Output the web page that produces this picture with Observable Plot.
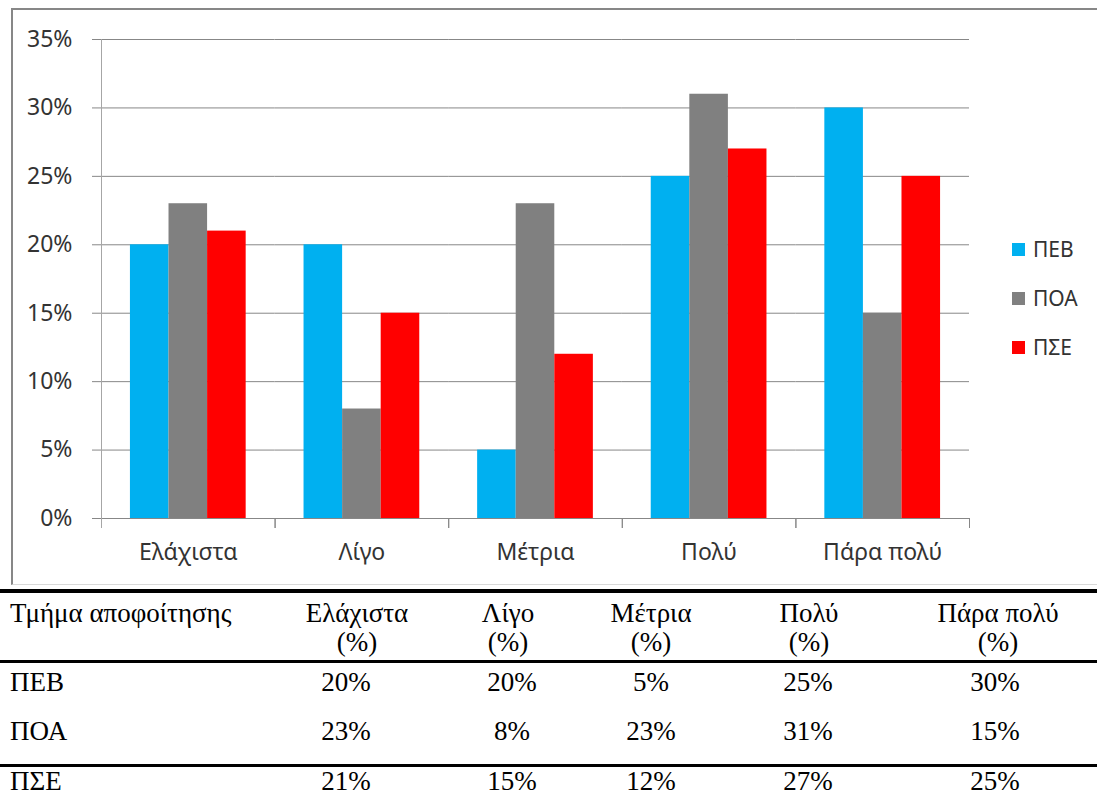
<!DOCTYPE html>
<html>
<head>
<meta charset="utf-8">
<script src="https://cdn.jsdelivr.net/npm/d3@7"></script>
<script src="https://cdn.jsdelivr.net/npm/@observablehq/plot@0.6"></script>
<style>
  html, body { margin: 0; padding: 0; background: #fff; }
  #wrap { position: relative; width: 1097px; height: 812px; overflow: hidden; }
  #box { position: absolute; left: 11px; top: 8px; width: 1090px; height: 574px;
         border-left: 2px solid #878787; border-top: 2px solid #878787; border-bottom: 1px solid #d9d9d9; }
  #chart { position: absolute; left: 0; top: 0; }
  #legend { position: absolute; left: 1012px; top: 234px; font-family: "Noto Sans", sans-serif; font-size: 21px; color: #333; }
  .lg { display: flex; align-items: center; height: 30px; margin-bottom: 19px; }
  .sw { width: 13px; height: 13px; margin-right: 8px; }
  .rule { position: absolute; left: 0; width: 1097px; background: #000; }
  .cell { position: absolute; font-family: "Liberation Serif", "Times New Roman", serif; font-size: 27px; color: #000; line-height: 27px; white-space: nowrap; }
  .c { width: 240px; text-align: center; }
  .h { line-height: 29px; }
</style>
</head>
<body>
<div id="wrap">
  <div id="box"></div>
  <div id="chart"></div>
  <div id="legend"></div>
  <div id="table"></div>
</div>
<script>
const categories = ["Ελάχιστα", "Λίγο", "Μέτρια", "Πολύ", "Πάρα πολύ"];
const series = ["ΠΕΒ", "ΠΟΑ", "ΠΣΕ"];
const pev = [20, 20, 5, 25, 30];
const poa = [23, 8, 23, 31, 15];
const pse = [21, 15, 12, 27, 25];
const yTicks = [0, 5, 10, 15, 20, 25, 30, 35];
const colors = ["#00B0F0", "#808080", "#FF0000"];
const tableHeader = "Τμήμα αποφοίτησης";

const values = [pev, poa, pse];
const data = [];
categories.forEach((c, i) => series.forEach((s, j) => data.push({category: c, series: s, value: values[j][i]})));

const W = 1097, H = 580, mt = 39, mb = 62;
const plotH = H - mt - mb;

const chart = Plot.plot({
  width: W, height: H,
  marginLeft: 101, marginRight: 128, marginTop: mt, marginBottom: mb,
  style: {fontFamily: "'Noto Sans', sans-serif", fontSize: "23px", color: "#333", background: "transparent", overflow: "visible"},
  fx: {domain: categories, padding: 0, round: false, label: null},
  x: {domain: series, paddingInner: 0, paddingOuter: 0.75, round: false, axis: null},
  y: {domain: [0, 35], label: null},
  color: {domain: series, range: colors},
  marks: [
    Plot.gridY(yTicks, {stroke: "#878787", strokeOpacity: 1}),
    Plot.barY(data, {fx: "category", x: "series", y: "value", fill: "series"}),
    Plot.ruleY([0], {stroke: "#878787"}),
    Plot.frame({anchor: "left", stroke: "#878787", insetTop: plotH, insetBottom: -9}),
    Plot.frame({anchor: "right", stroke: "#878787", insetTop: plotH, insetBottom: -9}),
    Plot.frame({anchor: "left", stroke: "#a6a6a6", insetBottom: -9, fx: categories[0]}),
    Plot.axisY(yTicks, {tickSize: 9, tickPadding: 20, tickFormat: d => d + "%", stroke: "#878787", label: null}),
    Plot.axisFx({anchor: "bottom", tickSize: 0, tickPadding: 25, label: null})
  ]
});
document.getElementById("chart").appendChild(chart);

// legend
const lg = document.getElementById("legend");
series.forEach((s, j) => {
  const row = document.createElement("div");
  row.className = "lg";
  row.innerHTML = `<div class="sw" style="background:${colors[j]}"></div><span>${s}</span>`;
  lg.appendChild(row);
});

// table
const tbl = document.getElementById("table");
function rule(top, h) { const d = document.createElement("div"); d.className = "rule"; d.style.top = top + "px"; d.style.height = h + "px"; tbl.appendChild(d); }
function cell(text, left, top, centered, extra) {
  const d = document.createElement("div");
  d.className = "cell" + (centered ? " c" : "") + (extra ? " " + extra : "");
  d.style.left = (centered ? left - 120 : left) + "px";
  d.style.top = top + "px";
  d.innerHTML = text;
  tbl.appendChild(d);
}
rule(589, 4);
rule(660, 3);
rule(764, 3);
const headCenters = [357, 508, 651, 809, 998];
const valCenters = [346, 512, 651, 808, 995];
cell(tableHeader, 10, 599, false, "h");
categories.forEach((c, i) => cell(c + "<br>(%)", headCenters[i], 599, true, "h"));
const rowTops = [669, 718, 768];
series.forEach((s, j) => {
  cell(s, 10, rowTops[j], false);
  values[j].forEach((v, i) => cell(v + "%", valCenters[i], rowTops[j], true));
});
</script>
</body>
</html>
